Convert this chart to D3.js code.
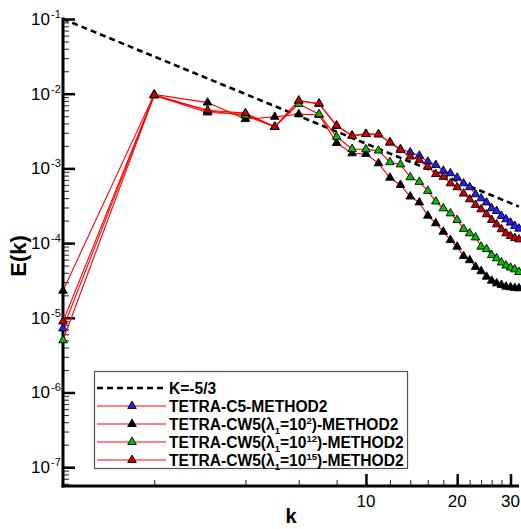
<!DOCTYPE html>
<html>
<head>
<meta charset="utf-8">
<script src="https://cdn.jsdelivr.net/npm/d3@7"></script>
<style>
  body { margin: 0; background: #fff; }
  svg { display: block; font-family: "Liberation Sans", Arial, Helvetica, sans-serif; }
</style>
</head>
<body>
<svg id="chart" width="521" height="529"></svg>
<script>
// wavenumbers
const kValues = [1, 2, 3, 4, 5, 6, 7, 8, 9, 10, 11, 12, 13, 14, 15, 16,
                 17, 18, 19, 20, 21, 22, 23, 24, 25, 26, 27, 28, 29, 30, 31, 32];

// E(k) for each run
const c5Method2 = [7.2e-6, 9.5e-3, 5.6e-3, 5.3e-3, 3.6e-3, 8.0e-3, 7.3e-3, 3.7e-3,
  2.75e-3, 2.9e-3, 2.85e-3, 2.25e-3, 1.82e-3, 1.64e-3, 1.48e-3, 1.23e-3,
  1.11e-3, 9.3e-4, 8.6e-4, 7.5e-4, 6.3e-4, 5.6e-4, 4.5e-4, 3.97e-4,
  3.5e-4, 2.92e-4, 2.69e-4, 2.31e-4, 2.08e-4, 1.88e-4, 1.69e-4, 1.56e-4];

const cw5Lambda2 = [2.3e-5, 9.8e-3, 7.6e-3, 4.57e-3, 4.9e-3, 5.3e-3, 5.2e-3, 2.19e-3,
  1.59e-3, 1.56e-3, 1.17e-3, 7.5e-4, 6.0e-4, 4.2e-4, 3.5e-4, 2.33e-4,
  1.84e-4, 1.42e-4, 1.10e-4, 8.95e-5, 6.7e-5, 5.9e-5, 4.8e-5, 4.2e-5,
  3.55e-5, 3.14e-5, 2.89e-5, 2.75e-5, 2.61e-5, 2.56e-5, 2.5e-5, 2.48e-5];

const cw5Lambda12 = [5.0e-6, 9.5e-3, 5.9e-3, 5.1e-3, 3.6e-3, 7.3e-3, 5.3e-3, 2.65e-3,
  1.82e-3, 1.80e-3, 1.73e-3, 1.21e-3, 1.13e-3, 7.6e-4, 6.6e-4, 5.0e-4,
  3.6e-4, 2.92e-4, 2.5e-4, 2.04e-4, 1.55e-4, 1.35e-4, 1.19e-4, 8.95e-5,
  8.3e-5, 6.9e-5, 6.25e-5, 5.5e-5, 5.0e-5, 4.7e-5, 4.45e-5, 4.1e-5];

const cw5Lambda15 = [8.9e-6, 9.6e-3, 6.0e-3, 5.5e-3, 3.6e-3, 8.1e-3, 7.4e-3, 3.75e-3,
  2.72e-3, 2.88e-3, 2.86e-3, 2.21e-3, 1.76e-3, 1.44e-3, 1.29e-3, 1.05e-3,
  8.4e-4, 7.7e-4, 6.3e-4, 5.6e-4, 4.6e-4, 3.85e-4, 3.24e-4, 2.83e-4,
  2.43e-4, 2.04e-4, 1.78e-4, 1.53e-4, 1.35e-4, 1.24e-4, 1.17e-4, 1.12e-4];

// K^-5/3 reference line end points
const refK = [1, 32];
const refE = [1e-1, 3.08e-4];

// ticks
const yMajorExps = [-1, -2, -3, -4, -5, -6, -7];
const yMinorMult = [2, 3, 4, 5, 6, 7, 8, 9];
const xMajorTicks = [10, 20, 30];
const xMinorTicks = [2, 4, 6, 8, 12, 14, 16, 18, 22, 24, 26, 28];

const seriesNames = ["c5", "cw2", "cw12", "cw15"];
const markerFill = { c5: "#1f1fff", cw2: "#000000", cw12: "#00c000", cw15: "#c80000" };

// legend text pieces: [text, kind]
const legendLabels = [
  [["K=-5/3", null]],
  [["TETRA-C5-METHOD2", null]],
  [["TETRA-CW5(\u03bb", null], ["1", "sub"], ["=10", null], ["2", "sup"], [")-METHOD2", null]],
  [["TETRA-CW5(\u03bb", null], ["1", "sub"], ["=10", null], ["12", "sup"], [")-METHOD2", null]],
  [["TETRA-CW5(\u03bb", null], ["1", "sub"], ["=10", null], ["15", "sup"], [")-METHOD2", null]]
];

const svg = d3.select("#chart");

const x = d3.scaleLog().domain([1, 32]).range([63, 519]);
const y = d3.scaleLog().domain([5.6e-8, 0.1]).range([486, 19]);

// minor y ticks
const yMinor = [];
for (let e = -8; e <= -2; e++) {
  yMinorMult.forEach(m => {
    const v = m * Math.pow(10, e);
    if (v >= y.domain()[0] && v <= y.domain()[1]) yMinor.push(v);
  });
}

const yMinorG = svg.append("g")
  .attr("transform", "translate(63,0)")
  .call(d3.axisLeft(y).tickValues(yMinor).tickSize(-6).tickFormat(""));
yMinorG.select(".domain").remove();
yMinorG.selectAll("line").attr("stroke", "#444").attr("stroke-width", 1.2);

const yMajorG = svg.append("g")
  .attr("transform", "translate(63,0)")
  .call(d3.axisLeft(y).tickValues(yMajorExps.map(e => Math.pow(10, e))).tickSize(-12).tickFormat(""));
yMajorG.select(".domain").remove();
yMajorG.selectAll("line").attr("stroke", "#000").attr("stroke-width", 2.5);

const xMinorG = svg.append("g")
  .attr("transform", "translate(0,486)")
  .call(d3.axisBottom(x).tickValues(xMinorTicks).tickSize(-6).tickFormat(""));
xMinorG.select(".domain").remove();
xMinorG.selectAll("line").attr("stroke", "#444").attr("stroke-width", 1.2);

const xMajorG = svg.append("g")
  .attr("transform", "translate(0,486)")
  .call(d3.axisBottom(x).tickValues(xMajorTicks).tickSize(-12).tickFormat(""));
xMajorG.select(".domain").remove();
xMajorG.selectAll("line").attr("stroke", "#000").attr("stroke-width", 2.5);

// axis lines
svg.append("line")
  .attr("x1", 63).attr("x2", 63).attr("y1", 17.5).attr("y2", 487.5)
  .attr("stroke", "#000").attr("stroke-width", 3);
svg.append("line")
  .attr("x1", 61.5).attr("x2", 519).attr("y1", 486).attr("y2", 486)
  .attr("stroke", "#000").attr("stroke-width", 3);

// y tick labels
yMajorExps.forEach(e => {
  const yy = y(Math.pow(10, e));
  svg.append("text")
    .attr("x", 50).attr("y", yy + 6)
    .attr("text-anchor", "end")
    .attr("font-size", 17)
    .text("10");
  svg.append("text")
    .attr("x", 51).attr("y", yy - 1)
    .attr("font-size", 11)
    .text(e);
});

// x tick labels
xMajorTicks.forEach(v => {
  svg.append("text")
    .attr("x", x(v)).attr("y", 507)
    .attr("text-anchor", "middle")
    .attr("font-size", 17)
    .text(v);
});

// axis titles
svg.append("text")
  .attr("transform", "translate(26,256) rotate(-90)")
  .attr("text-anchor", "middle")
  .attr("font-size", 22)
  .attr("font-weight", "bold")
  .text("E(k)");
svg.append("text")
  .attr("x", 291).attr("y", 523)
  .attr("text-anchor", "middle")
  .attr("font-size", 20)
  .attr("font-weight", "bold")
  .text("k");

// reference slope
const refData = refK.map((k, i) => ({ k: k, e: refE[i] }));
const line = d3.line().x(d => x(d.k)).y(d => y(d.e));

svg.append("path")
  .datum(refData)
  .attr("fill", "none")
  .attr("stroke", "#000")
  .attr("stroke-width", 2.6)
  .attr("stroke-dasharray", "6,4")
  .attr("d", line);

// series
const seriesValues = { c5: c5Method2, cw2: cw5Lambda2, cw12: cw5Lambda12, cw15: cw5Lambda15 };
const tri = d3.symbol().type(d3.symbolTriangle).size(32);

seriesNames.forEach(name => {
  const data = kValues.map((k, i) => ({ k: k, e: seriesValues[name][i] }));
  svg.append("path")
    .datum(data)
    .attr("fill", "none")
    .attr("stroke", "#ff0000")
    .attr("stroke-width", 1.1)
    .attr("d", line);
  svg.append("g").selectAll("path")
    .data(data)
    .enter().append("path")
    .attr("d", tri)
    .attr("transform", d => `translate(${x(d.k)},${y(d.e)})`)
    .attr("fill", markerFill[name])
    .attr("stroke", "#000")
    .attr("stroke-width", 0.9);
});

// legend
const legend = svg.append("g");
legend.append("rect")
  .attr("x", 94.5).attr("y", 371.5)
  .attr("width", 313).attr("height", 97)
  .attr("fill", "#fff")
  .attr("stroke", "#555")
  .attr("stroke-width", 1.2);

const rowY = [388, 406, 424, 442, 460];
rowY.forEach((ry, i) => {
  if (i === 0) {
    legend.append("line")
      .attr("x1", 97).attr("x2", 166).attr("y1", ry).attr("y2", ry)
      .attr("stroke", "#000").attr("stroke-width", 2.6)
      .attr("stroke-dasharray", "6,4");
  } else {
    const name = seriesNames[i - 1];
    legend.append("line")
      .attr("x1", 97).attr("x2", 166).attr("y1", ry).attr("y2", ry)
      .attr("stroke", "#ff0000").attr("stroke-width", 1.1);
    legend.append("path")
      .attr("d", tri)
      .attr("transform", `translate(132,${ry})`)
      .attr("fill", markerFill[name])
      .attr("stroke", "#000")
      .attr("stroke-width", 0.9);
  }
  const t = legend.append("text")
    .attr("x", 169).attr("y", ry + 5.5)
    .attr("font-size", 15.6)
    .attr("font-weight", "bold");
  let shift = 0;
  legendLabels[i].forEach(([txt, kind]) => {
    let target = 0;
    if (kind === "sub") target = 4;
    if (kind === "sup") target = -6;
    const sp = t.append("tspan")
      .attr("dy", target - shift)
      .text(txt);
    if (kind) sp.attr("font-size", 9.5);
    shift = target;
  });
});
</script>
</body>
</html>
